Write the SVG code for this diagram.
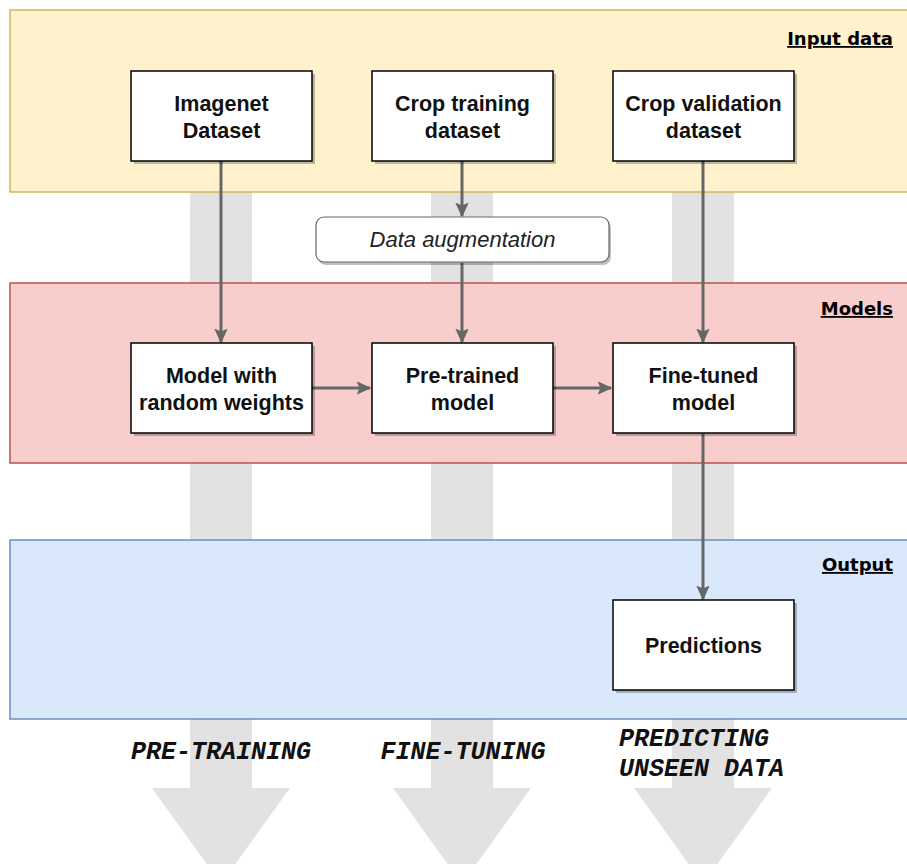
<svg xmlns="http://www.w3.org/2000/svg" width="907" height="864" viewBox="0 0 907 864">
<defs>
<style>
.band-label{font-family:"DejaVu Sans","Liberation Sans",sans-serif;font-weight:bold;font-size:18px;fill:#000;text-decoration:underline;text-anchor:end}
.box{fill:#fff;stroke:#000;stroke-width:1.5}
.shadow{fill:#000;opacity:0.25}
.bt{font-family:"Liberation Sans",Arial,sans-serif;font-weight:bold;font-size:21.5px;fill:#111;text-anchor:middle}
.it{font-family:"Liberation Sans",Arial,sans-serif;font-style:italic;font-size:22px;fill:#222;text-anchor:middle}
.phase{font-family:"Liberation Mono","Courier New",monospace;font-weight:bold;font-style:italic;font-size:25px;fill:#111}
.conn{stroke:#666;stroke-width:3;fill:none;marker-end:url(#ah)}
.big{fill:#e2e2e2}
</style>
<marker id="ah" viewBox="0 0 10 10" refX="9" refY="5" markerWidth="5" markerHeight="5" orient="auto" markerUnits="strokeWidth">
<path d="M0,0.5 L10,5 L0,9.5 L2,5 Z" fill="#666"/>
</marker>
</defs>
<rect width="907" height="864" fill="#fff"/>
<g id="phase-arrows">
<path class="big" d="M190,190 H252 V788 H290 L221,884 L152,788 H190 Z"/>
<path class="big" d="M431,190 H493 V788 H531 L462,884 L393,788 H431 Z"/>
<path class="big" d="M672,190 H734 V788 H772 L703,884 L634,788 H672 Z"/>
</g>
<g id="band-input">
<rect x="10" y="10" width="905" height="182" fill="#fff2cc" stroke="#d6b656" stroke-width="1.5"/>
<text class="band-label" x="893" y="45">Input data</text>
</g>
<g id="band-models">
<rect x="10" y="283" width="905" height="180" fill="#f8cecc" stroke="#b85450" stroke-width="1.5"/>
<text class="band-label" x="893" y="315">Models</text>
</g>
<g id="band-output">
<rect x="10" y="540" width="905" height="179" fill="#dae8fc" stroke="#6c8ebf" stroke-width="1.5"/>
<text class="band-label" x="893" y="571">Output</text>
</g>
<g id="connectors">
<line class="conn" x1="221" y1="161" x2="221" y2="342"/>
<line class="conn" x1="462" y1="161" x2="462" y2="216"/>
<line class="conn" x1="462" y1="263" x2="462" y2="342"/>
<line class="conn" x1="703" y1="161" x2="703" y2="342"/>
<line class="conn" x1="312" y1="388" x2="370" y2="388"/>
<line class="conn" x1="553" y1="388" x2="611" y2="388"/>
<line class="conn" x1="703" y1="434" x2="703" y2="599"/>
</g>
<g id="imagenet">
<rect class="shadow" x="134" y="74" width="181" height="90"/>
<rect class="box" x="131" y="71" width="181" height="90"/>
<text class="bt" x="221.5" y="111">Imagenet</text>
<text class="bt" x="221.5" y="138">Dataset</text>
</g>
<g id="crop-training">
<rect class="shadow" x="375" y="74" width="181" height="90"/>
<rect class="box" x="372" y="71" width="181" height="90"/>
<text class="bt" x="462.5" y="111">Crop training</text>
<text class="bt" x="462.5" y="138">dataset</text>
</g>
<g id="crop-validation">
<rect class="shadow" x="616" y="74" width="181" height="90"/>
<rect class="box" x="613" y="71" width="181" height="90"/>
<text class="bt" x="703.5" y="111">Crop validation</text>
<text class="bt" x="703.5" y="138">dataset</text>
</g>
<g id="data-augmentation">
<rect class="shadow" x="318" y="220" width="293" height="45" rx="8"/>
<rect x="316" y="217" width="293" height="45" rx="8" fill="#fff" stroke="#666" stroke-width="1.2"/>
<text class="it" x="462.5" y="247">Data augmentation</text>
</g>
<g id="model-random">
<rect class="shadow" x="134" y="346" width="181" height="90"/>
<rect class="box" x="131" y="343" width="181" height="90"/>
<text class="bt" x="221.5" y="383">Model with</text>
<text class="bt" x="221.5" y="410">random weights</text>
</g>
<g id="pre-trained">
<rect class="shadow" x="375" y="346" width="181" height="90"/>
<rect class="box" x="372" y="343" width="181" height="90"/>
<text class="bt" x="462.5" y="383">Pre-trained</text>
<text class="bt" x="462.5" y="410">model</text>
</g>
<g id="fine-tuned">
<rect class="shadow" x="616" y="346" width="181" height="90"/>
<rect class="box" x="613" y="343" width="181" height="90"/>
<text class="bt" x="703.5" y="383">Fine-tuned</text>
<text class="bt" x="703.5" y="410">model</text>
</g>
<g id="predictions">
<rect class="shadow" x="616" y="603" width="181" height="90"/>
<rect class="box" x="613" y="600" width="181" height="90"/>
<text class="bt" x="703.5" y="653">Predictions</text>
</g>
<g id="phase-labels">
<text class="phase" x="221" y="759" text-anchor="middle">PRE-TRAINING</text>
<text class="phase" x="463" y="759" text-anchor="middle">FINE-TUNING</text>
<text class="phase" x="619" y="746">PREDICTING</text>
<text class="phase" x="619" y="776">UNSEEN DATA</text>
</g>
</svg>
